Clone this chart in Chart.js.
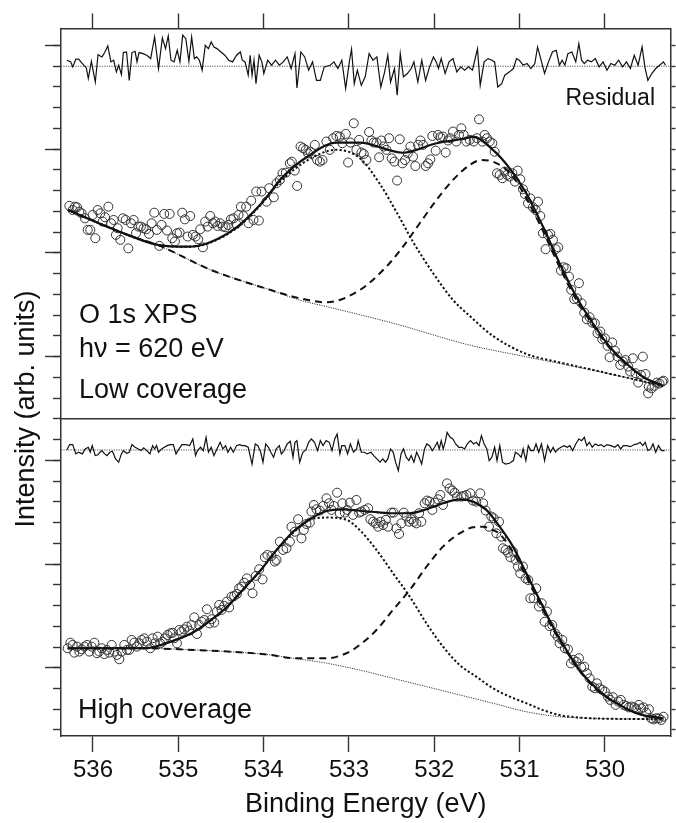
<!DOCTYPE html>
<html><head><meta charset="utf-8">
<script src="https://cdn.jsdelivr.net/npm/chart.js@4.4.0/dist/chart.umd.min.js"></script>
<style>html,body{margin:0;padding:0;background:#fff}canvas{display:block}</style>
</head><body>
<canvas id="c" width="676" height="823"></canvas>
<script>
const FONT = '"Liberation Sans", Arial, Helvetica, sans-serif';

// ---- axis ticks ----
const xTickValues = [536, 535, 534, 533, 532, 531, 530];
const yMinorTicks = [0,1,2,3,4,5,6,7,8,9,10,11,12,13,14,15,16,17,18,19,20,21,22,23,24,25,26,27,28,29,30,31,32,33];
const yMajorTicks = [3, 8, 13, 18, 23, 28, 33];

// ---- Low coverage (top panel): [binding energy eV, intensity] ----
const lowPoints = [[536.277,25.27],[536.238,25.07],[536.211,25.23],[536.187,25.20],[536.160,24.99],[536.133,24.91],[536.094,24.67],[536.062,24.11],[536.031,24.11],[536.004,24.83],[535.973,23.71],[535.945,25.07],[535.914,24.91],[535.887,24.51],[535.859,24.72],[535.820,25.23],[535.789,24.43],[535.758,24.59],[535.731,23.87],[535.711,24.19],[535.680,23.63],[535.649,24.67],[535.617,24.59],[535.586,23.22],[535.555,24.43],[535.524,24.59],[535.496,23.95],[535.469,24.27],[535.438,24.27],[535.407,24.19],[535.376,24.14],[535.344,23.92],[535.313,24.43],[535.282,24.94],[535.251,24.11],[535.223,23.34],[535.196,24.35],[535.165,24.88],[535.133,24.08],[535.102,24.88],[535.071,23.71],[535.040,23.55],[535.016,23.95],[534.985,23.98],[534.954,24.94],[534.923,24.62],[534.891,23.79],[534.860,24.78],[534.829,23.87],[534.798,23.79],[534.767,23.66],[534.743,24.14],[534.712,23.27],[534.685,24.51],[534.657,24.27],[534.626,24.78],[534.595,24.43],[534.568,24.51],[534.540,24.30],[534.509,24.43],[534.478,24.27],[534.447,24.24],[534.415,24.35],[534.384,24.62],[534.353,24.67],[534.322,24.40],[534.294,24.83],[534.267,25.23],[534.236,24.78],[534.205,25.23],[534.177,24.43],[534.146,25.52],[534.119,24.59],[534.087,25.96],[534.056,24.56],[534.025,25.96],[533.966,25.47],[533.935,26.12],[533.881,25.68],[533.849,26.36],[533.810,26.52],[533.779,26.84],[533.740,26.87],[533.693,27.32],[533.670,27.40],[533.635,26.97],[533.607,26.23],[533.568,28.13],[533.537,28.05],[533.506,27.97],[533.479,27.80],[533.451,27.88],[533.400,28.21],[533.373,27.48],[533.342,27.40],[533.311,27.48],[533.264,28.37],[533.225,27.97],[533.186,28.53],[533.147,28.64],[533.108,28.61],[533.077,28.29],[533.037,28.74],[533.010,27.36],[532.983,28.32],[532.944,29.25],[532.913,27.97],[532.881,28.45],[532.854,27.84],[532.827,27.77],[532.796,27.48],[532.764,28.83],[532.737,28.42],[532.710,28.32],[532.678,28.32],[532.647,27.61],[532.620,28.42],[532.593,28.13],[532.561,27.97],[532.530,28.53],[532.499,27.56],[532.468,27.40],[532.436,26.49],[532.405,28.48],[532.374,27.32],[532.343,27.48],[532.311,27.80],[532.280,28.13],[532.249,27.64],[532.222,27.19],[532.190,28.21],[532.163,28.42],[532.132,28.21],[532.101,27.19],[532.073,27.32],[532.046,27.51],[532.023,28.64],[531.984,27.93],[531.956,28.69],[531.929,28.58],[531.898,28.61],[531.867,27.84],[531.839,28.42],[531.812,28.53],[531.781,28.85],[531.742,28.37],[531.711,28.69],[531.683,29.01],[531.656,28.69],[531.625,28.37],[531.585,28.45],[531.539,28.37],[531.500,28.53],[531.476,29.44],[531.437,28.37],[531.410,28.69],[531.383,28.53],[531.351,28.37],[531.320,28.29],[531.293,27.88],[531.265,26.84],[531.234,26.76],[531.203,26.60],[531.176,26.92],[531.148,26.76],[531.117,26.68],[531.086,26.84],[531.055,26.44],[531.023,26.97],[530.992,26.55],[530.961,26.07],[530.938,25.84],[530.902,25.39],[530.875,25.63],[530.844,25.20],[530.813,25.07],[530.785,25.47],[530.758,24.78],[530.727,23.95],[530.696,23.18],[530.668,23.87],[530.641,23.92],[530.610,23.63],[530.578,23.18],[530.547,23.27],[530.516,22.15],[530.485,22.31],[530.454,22.26],[530.422,21.86],[530.395,21.22],[530.360,20.77],[530.329,20.81],[530.305,21.54],[530.274,20.57],[530.243,20.12],[530.212,19.80],[530.180,19.90],[530.149,19.64],[530.118,19.61],[530.087,19.13],[530.055,19.21],[530.032,18.84],[530.001,18.88],[529.970,18.52],[529.946,17.97],[529.915,18.68],[529.884,18.29],[529.853,18.00],[529.821,17.60],[529.790,17.76],[529.759,17.84],[529.728,17.52],[529.704,17.28],[529.673,17.92],[529.642,17.20],[529.610,16.75],[529.579,17.12],[529.556,18.00],[529.525,17.16],[529.494,16.23],[529.486,16.55],[529.454,16.47],[529.419,16.59],[529.392,16.75],[529.361,16.71],[529.330,16.79],[529.314,16.84]];

const lowFit = [[536.296,25.07],[535.594,23.87],[535.242,23.39],[534.891,23.30],[534.657,23.47],[534.306,24.27],[534.044,25.31],[533.916,25.95],[533.810,26.52],[533.459,27.72],[533.146,28.32],[532.874,28.32],[532.367,27.83],[531.975,28.29],[531.624,28.53],[531.550,28.61],[531.313,27.97],[531.117,27.08],[530.922,25.88],[530.727,24.27],[530.532,22.50],[530.336,20.89],[530.142,19.61],[529.946,18.48],[529.751,17.68],[529.556,17.03],[529.322,16.59]];
const lowPeakHigh = [[536.293,25.07],[535.594,23.87],[535.242,23.39],[534.891,23.30],[534.657,23.45],[534.306,24.23],[534.044,25.27],[533.810,26.42],[533.459,27.53],[533.146,27.97],[532.874,27.57],[532.639,26.33],[532.405,24.69],[532.249,23.53],[532.015,22.03],[531.781,20.73],[531.585,19.96],[531.313,19.00],[530.922,18.13],[530.532,17.72],[530.142,17.36],[529.322,16.59]];
const lowPeakLow = [[536.293,25.07],[535.594,23.87],[535.215,23.34],[534.618,22.18],[533.916,21.21],[533.655,20.89],[533.263,20.62],[532.874,21.21],[532.561,22.34],[532.367,23.30],[532.171,24.43],[531.975,25.55],[531.781,26.52],[531.585,27.24],[531.449,27.48],[531.313,27.40],[531.117,26.86],[530.922,25.65],[530.727,24.06],[530.532,22.32],[530.336,20.73],[530.142,19.53],[529.946,18.42],[529.751,17.65],[529.556,17.02],[529.322,16.59]];
const lowBackground = [[536.293,25.07],[535.594,23.87],[535.220,23.34],[534.620,22.18],[533.920,21.21],[533.580,20.73],[533.260,20.41],[532.480,19.61],[531.590,18.56],[530.920,17.99],[530.140,17.34],[529.320,16.59]];
const lowResidual = [[536.306,0.29],[536.261,0.21],[536.238,-0.03],[536.201,0.34],[536.169,0.34],[536.124,0.13],[536.078,-0.08],[536.055,-0.59],[536.019,0.24],[535.973,-0.76],[535.941,0.56],[535.895,0.45],[535.863,0.66],[535.827,0.98],[535.790,0.21],[535.758,0.29],[535.726,-0.27],[535.699,0.05],[535.667,-0.40],[535.644,0.66],[535.607,0.69],[535.575,-0.68],[535.543,0.66],[535.507,0.72],[535.484,0.21],[535.461,0.66],[535.415,0.61],[535.370,0.53],[535.324,0.37],[535.278,1.41],[535.232,-0.11],[535.187,1.37],[535.150,0.85],[535.118,1.46],[535.086,0.29],[535.050,0.21],[535.013,0.77],[534.981,0.21],[534.949,1.50],[534.912,1.33],[534.876,0.24],[534.844,1.41],[534.812,0.37],[534.785,0.45],[534.753,0.29],[534.721,-0.19],[534.684,1.01],[534.647,0.85],[534.615,1.17],[534.583,0.93],[534.547,0.85],[534.501,0.69],[534.455,0.53],[534.410,0.29],[534.364,0.21],[534.318,0.53],[534.273,0.69],[534.250,0.29],[534.218,0.21],[534.181,-0.43],[534.158,0.53],[534.136,-0.43],[534.113,0.29],[534.090,-0.84],[534.053,0.53],[534.021,0.21],[533.998,-0.35],[533.953,0.29],[533.907,0.05],[533.861,0.29],[533.816,0.05],[533.770,0.21],[533.724,0.45],[533.678,-0.11],[533.633,0.61],[533.610,-1.05],[533.564,0.69],[533.519,0.45],[533.473,-0.19],[533.427,0.21],[533.381,-0.68],[533.336,-0.68],[533.290,-0.03],[533.221,0.05],[533.176,0.21],[533.130,-0.11],[533.084,0.29],[533.039,-1.08],[532.993,0.29],[532.970,0.82],[532.938,-0.84],[532.902,-0.19],[532.856,-0.92],[532.810,-0.51],[532.764,0.61],[532.719,0.29],[532.673,0.45],[532.627,-1.00],[532.582,-0.27],[532.545,0.53],[532.513,-0.76],[532.467,-0.11],[532.435,-1.40],[532.399,0.61],[532.362,-0.51],[532.316,-0.35],[532.271,-0.11],[532.239,0.21],[532.193,-0.76],[532.147,0.29],[532.102,-0.68],[532.056,-0.03],[532.010,0.45],[531.978,0.21],[531.951,-0.11],[531.919,0.37],[531.873,-0.35],[531.827,0.21],[531.782,0.37],[531.736,-0.27],[531.690,-0.03],[531.645,-0.19],[531.599,-0.03],[531.553,-0.19],[531.494,0.85],[531.462,-0.92],[531.416,0.21],[531.370,0.37],[531.325,0.29],[531.293,0.21],[531.256,-1.00],[531.210,-0.84],[531.174,-0.43],[531.119,-0.27],[531.073,-0.11],[531.037,0.37],[531.005,0.29],[530.959,0.05],[530.913,0.13],[530.868,-0.11],[530.822,0.13],[530.790,0.93],[530.753,0.37],[530.708,-0.35],[530.662,0.21],[530.616,0.69],[530.571,0.77],[530.534,0.05],[530.502,0.29],[530.470,0.05],[530.434,0.61],[530.388,0.69],[530.342,0.21],[530.306,1.09],[530.274,0.29],[530.242,0.13],[530.205,0.29],[530.159,0.21],[530.114,0.37],[530.068,-0.03],[530.022,0.21],[529.976,-0.19],[529.931,0.13],[529.885,0.05],[529.839,0.29],[529.794,-0.03],[529.748,0.21],[529.702,-0.11],[529.657,0.53],[529.611,0.05],[529.565,0.93],[529.529,-0.11],[529.497,-0.68],[529.451,-0.35],[529.405,-0.11],[529.360,0.05],[529.314,0.21],[529.291,0.05]];

// ---- High coverage (bottom panel) ----
const highPoints = [[536.297,3.94],[536.265,4.21],[536.238,4.10],[536.219,3.73],[536.187,4.02],[536.160,3.78],[536.133,3.89],[536.101,4.02],[536.070,4.10],[536.043,3.78],[536.016,4.02],[535.984,4.21],[535.953,3.70],[535.926,3.78],[535.898,3.94],[535.867,3.66],[535.836,3.86],[535.809,3.73],[535.781,4.10],[535.750,3.78],[535.719,3.62],[535.692,3.41],[535.664,3.78],[535.633,4.10],[535.602,3.86],[535.575,3.86],[535.547,4.34],[535.516,4.21],[535.485,4.02],[535.457,4.18],[535.430,4.34],[535.399,4.42],[535.368,4.26],[535.329,3.94],[535.301,4.42],[535.274,4.18],[535.243,4.50],[535.212,4.18],[535.184,4.26],[535.157,4.42],[535.126,4.58],[535.094,4.66],[535.067,4.69],[535.048,4.42],[535.016,4.18],[534.989,4.82],[534.962,4.74],[534.931,4.85],[534.899,4.98],[534.872,4.79],[534.845,5.06],[534.813,5.43],[534.782,4.63],[534.755,5.06],[534.728,5.22],[534.696,5.30],[534.665,5.82],[534.638,5.14],[534.610,5.34],[534.579,5.18],[534.548,5.71],[534.521,6.03],[534.493,5.79],[534.462,5.98],[534.431,6.19],[534.404,5.91],[534.376,6.43],[534.345,6.46],[534.314,6.56],[534.287,6.83],[534.259,6.91],[534.228,7.10],[534.197,7.31],[534.158,6.99],[534.130,6.59],[534.091,7.43],[534.052,7.75],[534.013,7.26],[533.986,8.33],[533.955,8.44],[533.908,8.39],[533.869,8.12],[533.849,8.20],[533.810,9.08],[533.771,8.68],[533.732,8.76],[533.693,9.08],[533.674,9.80],[533.635,9.56],[533.596,10.16],[533.557,9.24],[533.529,9.64],[533.498,9.93],[533.459,10.00],[533.440,10.53],[533.412,10.85],[533.381,10.64],[533.342,10.58],[533.303,10.80],[533.264,11.17],[533.233,10.93],[533.205,10.61],[533.178,10.80],[533.139,11.44],[533.108,10.45],[533.077,10.93],[533.049,10.48],[533.022,10.61],[532.991,10.96],[532.952,10.37],[532.913,11.09],[532.881,10.48],[532.854,10.53],[532.815,10.61],[532.776,10.69],[532.749,10.16],[532.717,10.04],[532.686,9.96],[532.659,9.80],[532.632,10.04],[532.600,9.88],[532.569,10.13],[532.542,9.80],[532.503,10.48],[532.476,10.48],[532.444,9.72],[532.413,9.45],[532.386,9.96],[532.358,10.48],[532.327,10.29],[532.296,10.04],[532.269,10.16],[532.241,10.04],[532.210,9.96],[532.179,10.45],[532.152,10.04],[532.113,10.93],[532.085,11.06],[532.054,11.01],[532.023,10.61],[531.995,10.96],[531.956,11.12],[531.929,11.33],[531.898,10.85],[531.851,11.89],[531.820,11.65],[531.789,11.54],[531.761,11.44],[531.734,11.25],[531.683,11.25],[531.656,11.28],[531.625,11.33],[531.578,11.41],[531.547,11.06],[531.508,11.01],[531.461,11.41],[531.429,10.93],[531.398,10.58],[531.359,9.80],[531.332,10.29],[531.305,10.21],[531.273,9.48],[531.242,10.04],[531.215,9.32],[531.195,8.76],[531.164,8.68],[531.137,8.55],[531.109,8.33],[531.078,8.60],[531.047,8.20],[531.020,7.88],[530.992,7.55],[530.961,7.88],[530.930,7.31],[530.899,7.23],[530.875,6.35],[530.836,6.35],[530.805,6.83],[530.774,5.95],[530.742,6.11],[530.707,5.22],[530.680,5.71],[530.649,5.01],[530.618,5.06],[530.586,4.66],[530.555,4.50],[530.532,4.18],[530.500,4.34],[530.469,3.94],[530.434,3.89],[530.399,3.21],[530.368,3.38],[530.336,3.29],[530.305,3.46],[530.278,3.02],[530.243,3.05],[530.212,2.73],[530.180,2.49],[530.149,2.09],[530.118,2.01],[530.094,2.25],[530.063,2.01],[530.032,1.93],[530.001,1.85],[529.966,1.61],[529.938,1.45],[529.907,1.58],[529.876,1.21],[529.845,1.37],[529.814,1.45],[529.782,1.21],[529.751,1.16],[529.720,1.09],[529.689,1.13],[529.657,1.09],[529.634,1.00],[529.603,1.21],[529.575,1.04],[529.548,1.09],[529.517,0.84],[529.485,1.00],[529.458,0.56],[529.431,0.51],[529.400,0.56],[529.368,0.56],[529.341,0.48],[529.314,0.64]];

const highFit = [[536.296,3.94],[535.399,3.94],[535.087,4.26],[534.814,4.74],[534.618,5.30],[534.423,5.95],[534.228,6.83],[534.033,7.71],[533.849,8.68],[533.655,9.56],[533.459,10.16],[533.263,10.56],[533.069,10.64],[532.874,10.57],[532.678,10.50],[532.484,10.45],[532.288,10.45],[532.092,10.64],[531.898,10.93],[531.703,11.12],[531.547,11.01],[531.390,10.61],[531.234,9.80],[531.078,8.84],[530.922,7.56],[530.766,6.27],[530.610,4.98],[530.453,3.86],[530.297,2.89],[530.142,2.17],[529.985,1.61],[529.829,1.21],[529.673,0.88],[529.516,0.68],[529.322,0.56]];
const highPeakHigh = [[536.296,3.94],[535.399,3.94],[535.087,4.26],[534.814,4.74],[534.618,5.30],[534.423,5.95],[534.228,6.83],[534.033,7.71],[533.849,8.68],[533.655,9.50],[533.459,10.13],[533.263,10.24],[533.029,10.13],[532.874,9.64],[532.678,8.68],[532.484,7.56],[532.288,6.43],[532.092,5.14],[531.898,4.02],[531.703,3.13],[531.507,2.57],[531.313,2.01],[531.117,1.61],[530.922,1.29],[530.727,0.96],[530.532,0.72],[530.336,0.61],[530.142,0.56],[529.322,0.52]];
const highPeakLow = [[536.296,3.94],[535.399,3.94],[534.814,3.86],[534.423,3.78],[533.916,3.62],[533.655,3.46],[533.263,3.46],[533.029,3.70],[532.874,4.10],[532.678,4.82],[532.484,5.79],[532.288,6.75],[532.092,7.87],[531.898,8.84],[531.703,9.48],[531.547,9.77],[531.430,9.80],[531.313,9.64],[531.234,9.45],[531.078,8.58],[530.922,7.38],[530.766,6.12],[530.610,4.87],[530.453,3.81],[530.297,2.84],[530.142,2.12],[529.985,1.59],[529.829,1.21],[529.673,0.88],[529.516,0.68],[529.322,0.56]];
const highBackground = [[536.296,3.94],[535.399,3.94],[534.814,3.86],[534.423,3.78],[533.916,3.62],[533.655,3.46],[533.263,3.22],[532.874,2.89],[532.484,2.49],[532.092,2.09],[531.703,1.69],[531.313,1.29],[530.922,0.88],[530.532,0.64],[530.142,0.56],[529.322,0.52]];
const highResidual = [[536.306,0],[536.274,0.26],[536.238,0.26],[536.201,-0.19],[536.169,-0.11],[536.124,-0.19],[536.092,0.05],[536.055,0.13],[536.032,-0.11],[536.009,0.21],[535.973,-0.27],[535.941,-0.23],[535.918,-0.11],[535.895,-0.03],[535.863,-0.19],[535.836,-0.27],[535.804,-0.11],[535.772,-0.06],[535.735,-0.43],[535.699,-0.59],[535.667,-0.19],[535.644,-0.03],[535.607,-0.16],[535.575,-0.11],[535.543,0.26],[535.507,0.13],[535.470,0.05],[535.438,-0.03],[535.406,0.10],[535.370,-0.03],[535.333,-0.19],[535.301,0.21],[535.278,0.05],[535.255,0.21],[535.232,-0.11],[535.196,0.05],[535.164,0.13],[535.132,0.21],[535.095,0.26],[535.059,0.26],[535.027,-0.19],[535.004,-0.03],[534.958,0.26],[534.912,0.26],[534.867,0.21],[534.830,0.53],[534.798,-0.27],[534.775,-0.03],[534.739,0.13],[534.707,-0.03],[534.675,0.61],[534.647,-0.11],[534.615,0.13],[534.583,-0.27],[534.547,0.05],[534.510,0.37],[534.478,0.05],[534.446,0.21],[534.419,-0.11],[534.387,0.13],[534.355,-0.11],[534.318,0.21],[534.282,0.26],[534.250,0.21],[534.218,0.21],[534.181,0.13],[534.136,-0.68],[534.099,0.29],[534.067,0.21],[534.035,-0.11],[534.008,-0.59],[533.976,0.29],[533.944,0.13],[533.916,-0.11],[533.884,-0.35],[533.852,0.05],[533.816,0.21],[533.793,-0.19],[533.761,-0.03],[533.724,0.29],[533.688,0.42],[533.656,-0.35],[533.633,0.37],[533.610,0.45],[533.578,-0.59],[533.541,-0.11],[533.505,0],[533.473,0.37],[533.441,0.53],[533.404,0.37],[533.368,-0.03],[533.336,0.45],[533.304,0.21],[533.267,0.45],[533.231,0.37],[533.199,-0.03],[533.167,0.53],[533.139,0.77],[533.107,-0.19],[533.084,0.21],[533.048,0.21],[533.016,-0.19],[532.984,0.29],[532.947,-0.11],[532.911,0.05],[532.892,0.45],[532.856,-0.11],[532.819,-0.11],[532.787,-0.19],[532.742,-0.11],[532.710,-0.27],[532.673,-0.43],[532.636,-0.59],[532.604,-0.43],[532.572,-0.59],[532.545,-0.43],[532.513,0.05],[532.481,-0.11],[532.454,-0.59],[532.422,-1.00],[532.390,-0.19],[532.362,0.05],[532.330,-0.35],[532.298,-0.51],[532.271,-0.27],[532.239,-0.59],[532.207,-0.11],[532.179,-0.35],[532.148,-0.68],[532.115,0.05],[532.088,0.29],[532.056,0.21],[532.024,-0.03],[531.997,0.13],[531.965,0.37],[531.942,0.05],[531.919,0.45],[531.896,0.05],[531.873,0.37],[531.850,0.85],[531.814,0.61],[531.782,0.53],[531.750,0.29],[531.713,0.13],[531.677,0.13],[531.645,0.05],[531.613,0.29],[531.576,0.45],[531.540,0.29],[531.508,0.37],[531.476,0.21],[531.448,0.69],[531.416,0.29],[531.384,0.05],[531.357,-0.51],[531.325,-0.35],[531.293,0.13],[531.265,-0.51],[531.233,0.21],[531.201,-0.59],[531.165,-0.68],[531.119,-0.64],[531.073,-0.51],[531.050,-0.11],[531.018,-0.19],[530.982,-0.35],[530.959,0.05],[530.927,-0.51],[530.899,0.21],[530.868,-0.03],[530.836,-0.03],[530.808,0.29],[530.776,-0.11],[530.744,0.29],[530.708,-0.51],[530.671,0.21],[530.639,-0.11],[530.607,0.13],[530.580,-0.11],[530.548,0.05],[530.516,0.13],[530.479,0.21],[530.443,0.13],[530.411,0.21],[530.379,-0.03],[530.342,0.29],[530.306,0.53],[530.274,0.45],[530.242,0.61],[530.214,0.21],[530.182,0.37],[530.150,0.13],[530.114,0.29],[530.077,0.21],[530.045,0.26],[530.013,0.16],[529.976,0.26],[529.931,0.21],[529.885,0.13],[529.849,0.26],[529.817,0.05],[529.784,0.21],[529.748,0.21],[529.702,0.16],[529.657,0.26],[529.620,0.29],[529.588,0.37],[529.556,0.21],[529.529,0.37],[529.497,-0.03],[529.465,0.05],[529.437,0.29],[529.405,-0.11],[529.373,0.21],[529.337,-0.03],[529.300,-0.03]];

// ---- layout constants (axis range and panel placement, not data) ----
const X_MIN = 529.232, X_MAX = 536.375;
const Y_MIN = -0.29, Y_MAX = 33.82;
const LOW_RESID_ZERO = 32, HIGH_RESID_ZERO = 13.5, PANEL_DIVIDER = 15;

const xy = arr => arr.map(([x, y]) => ({x, y}));
const shifted = (arr, base) => arr.map(([x, r]) => ({x, y: base + r}));
const hline = y => [{x: X_MAX, y}, {x: X_MIN, y}];

const INK = '#111';
const curve = (data, extra) => Object.assign({data, showLine: true, pointRadius: 0, borderColor: INK,
  borderWidth: 2, cubicInterpolationMode: 'monotone', fill: false}, extra);
const pts = data => ({data, showLine: false, pointRadius: 4.5, pointStyle: 'circle',
  pointBackgroundColor: 'rgba(0,0,0,0)', pointBorderColor: '#333', pointBorderWidth: 1});

const datasets = [
  curve(xy(lowFit), {borderWidth: 2.2}),
  curve(xy(highFit), {borderWidth: 2.2}),
  curve(xy(lowPeakHigh), {borderDash: [2.2, 2.2]}),
  curve(xy(highPeakHigh), {borderDash: [2.2, 2.2]}),
  curve(xy(lowPeakLow), {borderDash: [7, 5]}),
  curve(xy(highPeakLow), {borderDash: [7, 5]}),
  curve(xy(lowBackground), {borderWidth: 1, borderDash: [1.2, 1.2], borderColor: '#333'}),
  curve(xy(highBackground), {borderWidth: 1, borderDash: [1.2, 1.2], borderColor: '#333'}),
  curve(shifted(lowResidual, LOW_RESID_ZERO), {borderWidth: 1.2, cubicInterpolationMode: 'default', tension: 0}),
  curve(shifted(highResidual, HIGH_RESID_ZERO), {borderWidth: 1.2, cubicInterpolationMode: 'default', tension: 0}),
  curve(hline(LOW_RESID_ZERO), {borderWidth: 1, borderDash: [1.2, 1.2], borderColor: '#555', tension: 0}),
  curve(hline(HIGH_RESID_ZERO), {borderWidth: 1, borderDash: [1.2, 1.2], borderColor: '#555', tension: 0}),
  curve(hline(PANEL_DIVIDER), {borderWidth: 1.5, borderColor: '#333', tension: 0}),
  pts(xy(lowPoints)),
  pts(xy(highPoints))
];

const tickSet = list => scale => { scale.ticks = list.map(v => ({value: v})); };

const textPlugin = {
  id: 'panelText',
  afterDraw(chart) {
    const ctx = chart.ctx;
    ctx.save();
    ctx.fillStyle = '#111';
    ctx.textBaseline = 'alphabetic';
    ctx.textAlign = 'left';
    ctx.font = '27px ' + FONT;
    ctx.fillText('O 1s XPS', 79, 323);
    ctx.fillText('h\u03bd = 620 eV', 79, 357);
    ctx.fillText('Low coverage', 79, 398);
    ctx.fillText('High coverage', 78, 718);
    ctx.font = '23px ' + FONT;
    ctx.textAlign = 'right';
    ctx.fillText('Residual', 655, 105);
    ctx.font = '27px ' + FONT;
    ctx.textAlign = 'center';
    ctx.translate(34, 409);
    ctx.rotate(-Math.PI / 2);
    ctx.fillText('Intensity (arb. units)', 0, 0);
    ctx.restore();
  }
};

const tickGrid = len => ({display: true, drawOnChartArea: false, drawTicks: true, tickLength: len, tickColor: '#333', tickWidth: 1.4});

new Chart(document.getElementById('c'), {
  type: 'scatter',
  data: {datasets},
  plugins: [textPlugin],
  options: {
    responsive: false,
    animation: false,
    devicePixelRatio: 1,
    layout: {padding: 0},
    plugins: {legend: {display: false}, tooltip: {enabled: false}},
    elements: {line: {borderCapStyle: 'butt'}},
    scales: {
      x: {
        type: 'linear', position: 'bottom', min: X_MIN, max: X_MAX, reverse: true,
        afterBuildTicks: tickSet(xTickValues),
        ticks: {font: {family: FONT, size: 24}, color: '#111', padding: 4, maxRotation: 0, autoSkip: false},
        grid: tickGrid(16),
        border: {display: true, color: '#333', width: 1.5},
        title: {display: true, text: 'Binding Energy (eV)', font: {family: FONT, size: 27}, color: '#111', padding: {top: 0, bottom: 2}},
        afterFit: s => { s.height = 87; }
      },
      xTop: {
        type: 'linear', position: 'top', min: X_MIN, max: X_MAX, reverse: true,
        afterBuildTicks: tickSet(xTickValues),
        ticks: {display: false},
        grid: tickGrid(15),
        border: {display: true, color: '#333', width: 1.5},
        afterFit: s => { s.height = 28.5; }
      },
      y: {
        type: 'linear', position: 'left', min: Y_MIN, max: Y_MAX, weight: 10,
        afterBuildTicks: tickSet(yMinorTicks),
        ticks: {display: false},
        grid: tickGrid(8),
        border: {display: true, color: '#333', width: 1.5},
        afterFit: s => { s.width = 61; }
      },
      yMajor: {
        type: 'linear', position: 'left', min: Y_MIN, max: Y_MAX, weight: 0,
        afterBuildTicks: tickSet(yMajorTicks),
        ticks: {display: false},
        grid: tickGrid(16),
        border: {display: false},
        afterFit: s => { s.width = 0; }
      },
      yRight: {
        type: 'linear', position: 'right', min: Y_MIN, max: Y_MAX,
        afterBuildTicks: tickSet(yMinorTicks),
        ticks: {display: false},
        grid: tickGrid(5),
        border: {display: true, color: '#333', width: 1.5},
        afterFit: s => { s.width = 5; }
      }
    }
  }
});
</script>
</body></html>
